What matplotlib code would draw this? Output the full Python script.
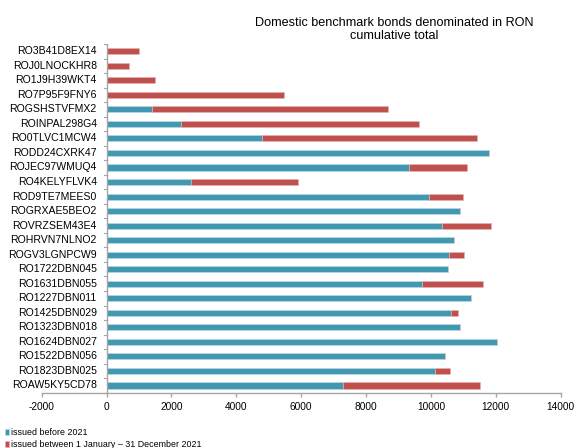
import matplotlib
matplotlib.use("Agg")
import matplotlib.pyplot as plt
import numpy as np

plt.rcParams['font.family'] = ['Liberation Sans', 'DejaVu Sans']

bonds = ["RO3B41D8EX14", "ROJ0LNOCKHR8", "RO1J9H39WKT4", "RO7P95F9FNY6",
         "ROGSHSTVFMX2", "ROINPAL298G4", "RO0TLVC1MCW4", "RODD24CXRK47",
         "ROJEC97WMUQ4", "RO4KELYFLVK4", "ROD9TE7MEES0", "ROGRXAE5BEO2",
         "ROVRZSEM43E4", "ROHRVN7NLNO2", "ROGV3LGNPCW9", "RO1722DBN045",
         "RO1631DBN055", "RO1227DBN011", "RO1425DBN029", "RO1323DBN018",
         "RO1624DBN027", "RO1522DBN056", "RO1823DBN025", "ROAW5KY5CD78"]

before_2021 = [0, 0, 0, 0,
               1410, 2300, 4800, 11800,
               9330, 2610, 9950, 10895,
               10330, 10700, 10545, 10515,
               9715, 11225, 10610, 10905,
               12045, 10445, 10125, 7300]

during_2021 = [990, 680, 1500, 5455,
               7255, 7320, 6610, 0,
               1790, 3300, 1045, 0,
               1510, 0, 485, 0,
               1900, 0, 215, 0,
               0, 0, 470, 4205]

x_ticks = [-2000, 0, 2000, 4000, 6000, 8000, 10000, 12000, 14000]

BLUE = "#4198B0"
RED = "#C0504D"
AXIS = "#A6A6A6"

fig = plt.figure(figsize=(5.76, 4.48), dpi=100)
ax = fig.add_axes([0.0724, 0.1234, 0.9010, 0.7784])

y = np.arange(len(bonds))
h = 0.42
ax.barh(y, before_2021, height=h, color=BLUE, edgecolor="#BFDDE6", linewidth=0.4,
        label="issued before 2021")
ax.barh(y, during_2021, left=before_2021, height=h, color=RED, edgecolor="#E5B5B4",
        linewidth=0.4, label="issued between 1 January \u2013 31 December 2021")

ax.set_xlim(-2000, 14000)
ax.set_ylim(len(bonds) - 0.5, -0.5)
ax.set_xticks(x_ticks)
ax.set_xticklabels([str(v) for v in x_ticks], fontsize=7.3)

# category labels sit to the left of the zero axis
ax.set_yticks([])
for yi, name in zip(y, bonds):
    ax.text(-300, yi, name, ha="right", va="center", fontsize=7.6, color="#000000")

for s in ["top", "right", "left"]:
    ax.spines[s].set_visible(False)
ax.spines["bottom"].set_color(AXIS)
ax.spines["bottom"].set_linewidth(1.0)
ax.tick_params(axis="x", length=3, color=AXIS, width=1.0, pad=4)

# vertical axis at zero with small ticks between categories
ax.axvline(0, color=AXIS, linewidth=1.0)
for b in np.arange(-0.5, len(bonds), 1.0):
    ax.plot([-70, 0], [b, b], color=AXIS, linewidth=0.8, clip_on=False)

fig.text(0.684, 0.934, "Domestic benchmark bonds denominated in RON\ncumulative total",
         ha="center", va="center", fontsize=9.1, linespacing=1.15)

handles, labels = ax.get_legend_handles_labels()
fig.legend(handles, labels, loc="lower left", bbox_to_anchor=(0.0, -0.015),
           frameon=False, fontsize=6.4, handlelength=0.45, handleheight=0.6,
           handletextpad=0.2, labelspacing=0.4, borderaxespad=0.2)

fig.savefig("out.png", dpi=100)
